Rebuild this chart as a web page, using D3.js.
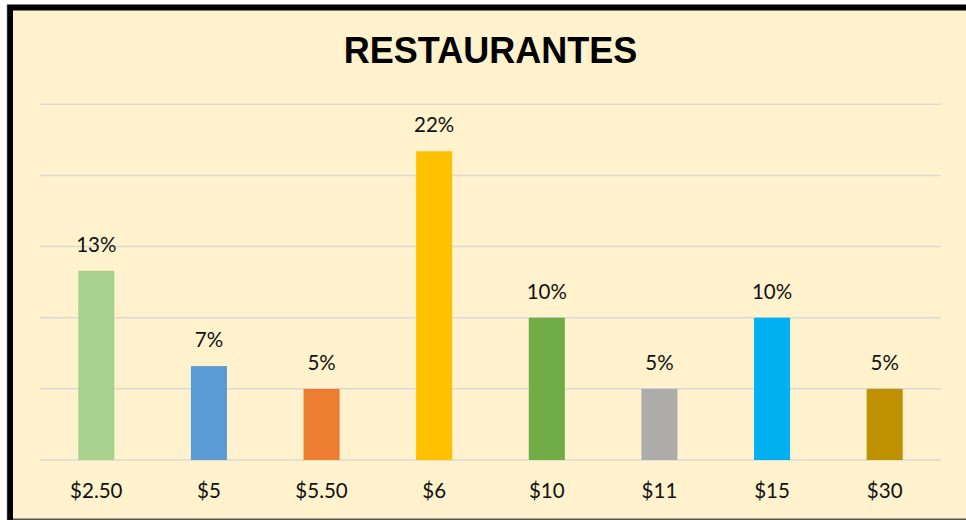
<!DOCTYPE html>
<html lang="en">
<head>
  <meta charset="utf-8">
  <title>Restaurantes</title>
  <script src="https://d3js.org/d3.v7.min.js"></script>
  <style>
    body { margin: 0; background: #ffffff; }
    .title { font: bold 36px "Liberation Sans", Arial, sans-serif; fill: #000; }
    .lbl { font: 20.5px Lato, "Open Sans", sans-serif; fill: #111; }
    .grid line { stroke: #d9d9d9; stroke-width: 1.5; }
  </style>
</head>
<body>
  <svg class="chart" width="966" height="520"></svg>

  <script>
    // data
    var categories = ["$2.50", "$5", "$5.50", "$6", "$10", "$11", "$15", "$30"];
    var shares = [0.133, 0.066, 0.05, 0.217, 0.10, 0.05, 0.10, 0.05];
    var barColors = ["#a9d18e", "#5b9bd5", "#ed7d31", "#ffc000", "#70ad47", "#aeabab", "#00b0f0", "#bf9000"];
    var gridTicks = [0, 0.05, 0.10, 0.15, 0.20, 0.25];

    var svg = d3.select("svg");

    // frame: pale yellow panel with heavy black top/left edge
    svg.append("rect")
      .attr("x", 10).attr("y", 7.5)
      .attr("width", 980).attr("height", 530)
      .attr("fill", "#fff2cc")
      .attr("stroke", "#000").attr("stroke-width", 6);
    svg.append("line")
      .attr("x1", 6.8).attr("x2", 6.8).attr("y1", 4.5).attr("y2", 520)
      .attr("stroke", "#bbb").attr("stroke-width", 0.8);
    svg.append("line")
      .attr("x1", 13).attr("x2", 966).attr("y1", 519.3).attr("y2", 519.3)
      .attr("stroke", "#555").attr("stroke-width", 1.6);

    var x = d3.scaleBand().domain(categories).range([40, 941])
      .paddingInner(0.68).paddingOuter(0.34);
    var y = d3.scaleLinear().domain([0, 0.25]).range([460, 104.3]);

    // horizontal gridlines
    svg.append("g").attr("class", "grid")
      .selectAll("line")
      .data(gridTicks)
      .enter()
      .append("line")
        .attr("x1", 40).attr("x2", 941)
        .attr("y1", function(d) { return y(d); })
        .attr("y2", function(d) { return y(d); });

    // bars
    svg.append("g")
      .selectAll("rect")
      .data(shares)
      .enter()
      .append("rect")
        .attr("x", function(d, i) { return x(categories[i]); })
        .attr("y", function(d) { return y(d); })
        .attr("width", x.bandwidth())
        .attr("height", function(d) { return y(0) - y(d); })
        .attr("fill", function(d, i) { return barColors[i]; });

    // value labels
    var pct = d3.format(".0%");
    svg.append("g")
      .selectAll("text")
      .data(shares)
      .enter()
      .append("text")
        .attr("class", "lbl")
        .attr("text-anchor", "middle")
        .attr("x", function(d, i) { return x(categories[i]) + x.bandwidth() / 2; })
        .attr("y", function(d) { return y(d) - 19; })
        .text(function(d) { return pct(d); });

    // category axis (labels only)
    var xAxis = svg.append("g")
      .attr("transform", "translate(0,460)")
      .call(d3.axisBottom(x).tickSize(0).tickPadding(38));
    xAxis.select(".domain").remove();
    xAxis.selectAll("text")
      .attr("class", "lbl")
      .attr("dy", 0)
      .style("font", null);
    xAxis.attr("font-family", null).attr("font-size", null);

    svg.append("text")
      .attr("class", "title")
      .attr("x", 490.5).attr("y", 63)
      .attr("text-anchor", "middle")
      .text("RESTAURANTES");
  </script>
</body>
</html>
